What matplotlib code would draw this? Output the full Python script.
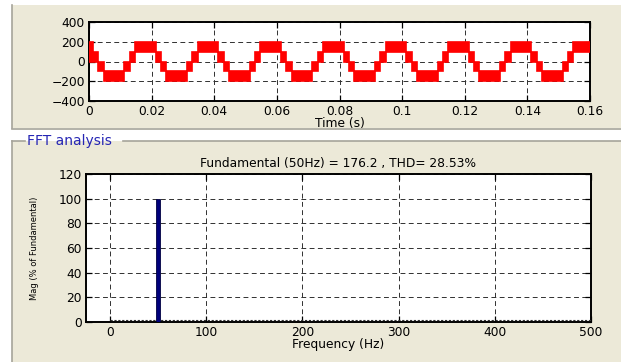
import matplotlib
matplotlib.use("Agg")
import matplotlib.pyplot as plt
from matplotlib.patches import Rectangle
from matplotlib.lines import Line2D
import matplotlib.transforms as mtransforms
import numpy as np

# ---------------- data ----------------
# stepped (multilevel PWM) inverter output: segment edges in ms, band low/high in V
edges_ms = [0, 1.3, 3.0, 4.7, 11.3, 13.0, 14.7, 21.3, 23.0, 24.7, 31.3, 33.0, 34.7,
            41.3, 43.0, 44.7, 51.3, 53.0, 54.7, 61.3, 63.0, 64.7, 71.3, 73.0, 74.7,
            81.3, 83.0, 84.7, 91.3, 93.0, 94.7, 101.3, 103.0, 104.7, 111.3, 113.0,
            114.7, 121.3, 123.0, 124.7, 131.3, 133.0, 134.7, 141.3, 143.0, 144.7,
            151.3, 153.0, 154.7, 160.0]
band_low = [0, 0, -100, -200, -100, 0, 100,
            0, -100, -200, -100, 0, 100,
            0, -100, -200, -100, 0, 100,
            0, -100, -200, -100, 0, 100,
            0, -100, -200, -100, 0, 100,
            0, -100, -200, -100, 0, 100,
            0, -100, -200, -100, 0, 100,
            0, -100, -200, -100, 0, 100]
band_high = [200, 100, 0, -100, 0, 100, 200,
             100, 0, -100, 0, 100, 200,
             100, 0, -100, 0, 100, 200,
             100, 0, -100, 0, 100, 200,
             100, 0, -100, 0, 100, 200,
             100, 0, -100, 0, 100, 200,
             100, 0, -100, 0, 100, 200,
             100, 0, -100, 0, 100, 200]

time_ticks = [0, 0.02, 0.04, 0.06, 0.08, 0.1, 0.12, 0.14, 0.16]
time_ticklabels = ["0", "0.02", "0.04", "0.06", "0.08", "0.1", "0.12", "0.14", "0.16"]
volt_ticks = [-400, -200, 0, 200, 400]

fft_freq = [50]
fft_mag = [100]
freq_ticks = [0, 100, 200, 300, 400, 500]
mag_ticks = [0, 20, 40, 60, 80, 100, 120]

title_fft = "Fundamental (50Hz) = 176.2 , THD= 28.53%"

# ---------------- layout ----------------
W, H = 621, 362
fig = plt.figure(figsize=(W / 100, H / 100), dpi=100, facecolor="white")
plt.rcParams["font.family"] = ["DejaVu Sans"]

def fx(x):
    return x / W

def fy(y):
    return 1 - y / H

beige = "#ECE9D8"
border = "#A6A49A"

# panels
fig.add_artist(Rectangle((fx(12), fy(128)), fx(W - 12), 123 / H, transform=fig.transFigure,
                         facecolor=beige, edgecolor="none", zorder=0))
fig.add_artist(Rectangle((fx(12), 0), fx(W - 12), fy(141), transform=fig.transFigure,
                         facecolor=beige, edgecolor="none", zorder=0))
for (x0, y0, x1, y1) in [(12, 5, 12, 128), (12, 128.5, W, 128.5),
                         (12, 141, 12, H), (12, 141, 25, 141), (123, 141, W, 141)]:
    fig.add_artist(Line2D([fx(x0), fx(x1)], [fy(y0), fy(y1)], transform=fig.transFigure,
                          color=border, lw=1.2, zorder=1))
fig.text(fx(27), fy(141), "FFT analysis", color="#2626B4", fontsize=10,
         ha="left", va="center", zorder=2)

grid_kw = dict(color="#303030", linestyle=(0, (5, 3.5)), linewidth=0.7)

def style_axes(ax):
    ax.set_facecolor("white")
    for s in ax.spines.values():
        s.set_linewidth(1.4)
        s.set_color("black")
    ax.tick_params(direction="in", length=4, width=0.9, top=True, right=True,
                   labelsize=8.8, colors="black", pad=3)
    ax.grid(True, **grid_kw)
    ax.set_axisbelow(True)

# top axes
ax1 = fig.add_axes([fx(89), fy(101), (590 - 89) / W, (101 - 22) / H])
edges_s = np.array(edges_ms) / 1000.0
ax1.stairs(band_high, edges_s, baseline=band_low, fill=True, facecolor="#FF0000",
           edgecolor="#FF0000", linewidth=1.2, zorder=3)
ax1.set_xlim(0, 0.16)
ax1.set_ylim(-400, 400)
ax1.set_xticks(time_ticks)
ax1.set_xticklabels(time_ticklabels)
ax1.set_yticks(volt_ticks)
style_axes(ax1)
ax1.set_xlabel("Time (s)", fontsize=8.8, labelpad=-1)

# bottom axes
ax2 = fig.add_axes([fx(86), fy(322), (591 - 86) / W, (322 - 174) / H])
ax2.bar(fft_freq, fft_mag, width=4.5, color="#00007A", edgecolor="#000040",
        linewidth=0.6, zorder=3)
off = mtransforms.offset_copy(ax2.transData, fig=fig, x=0, y=1.6, units="points")
ax2.plot([0, 500], [0, 0], transform=off, color="#303030", linestyle=(0, (2, 1.5)),
         linewidth=0.8, zorder=2.6)
ax2.set_xlim(-25, 500)
ax2.set_ylim(0, 120)
ax2.set_xticks(freq_ticks)
ax2.set_yticks(mag_ticks)
style_axes(ax2)
ax2.set_title(title_fft, fontsize=8.8, pad=5)
ax2.set_xlabel("Frequency (Hz)", fontsize=8.8, labelpad=-1)
ax2.set_ylabel("Mag (% of Fundamental)", fontsize=6.0, labelpad=14)

fig.savefig("out.png", dpi=100, facecolor="white")
